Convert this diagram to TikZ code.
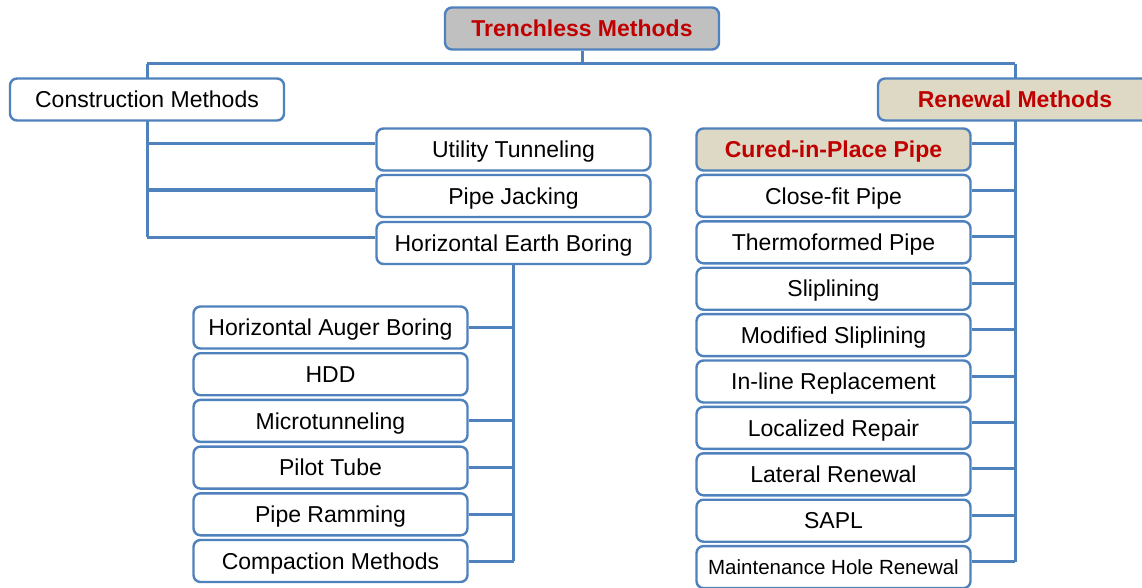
\documentclass[tikz,border=0pt]{standalone}
\usepackage{fontspec}
\setmainfont{Liberation Sans}
\usetikzlibrary{calc,backgrounds}
\definecolor{tmBlue}{HTML}{4F81BD}
\definecolor{tmRed}{HTML}{C00000}
\definecolor{tmGray}{HTML}{C0C0C0}
\definecolor{tmSand}{HTML}{DDD9C4}

\begin{document}
\begin{tikzpicture}[x=1pt,y=-1pt,line cap=round,line join=round]
\useasboundingbox (0,0) rectangle (1142,588);
\tikzset{box/.style={draw=tmBlue,fill=white,line width=2.4pt,rounded corners=7pt,minimum width=274pt,minimum height=42pt,inner sep=0pt,text height=18pt,text depth=1.6pt,font=\fontsize{23}{27}\selectfont},head/.style={box,text=tmRed,font=\fontsize{23}{27}\selectfont\bfseries},link/.style={draw=tmBlue,line width=3pt}}
\node[head,fill=tmGray] (top) at (582,28.5) {Trenchless Methods};
\node[box] (cons) at (147,99.5) {Construction Methods};
\node[head,fill=tmSand] (renew) at (1015,99.5) {Renewal Methods};
\node[box] (util) at (513.5,149.5) {Utility Tunneling};
\node[box] (jack) at (513.5,196) {Pipe Jacking};
\node[box] (heb) at (513.5,243) {Horizontal Earth Boring};
\foreach \txt [count=\i] in {Horizontal Auger Boring,HDD,Microtunneling,Pilot Tube,Pipe Ramming,Compaction Methods}
  \node[box] (l\i) at (330.5,{327.5+46.7*(\i-1)}) {\txt};
\node[head,fill=tmSand] (r1) at (833.5,149.5) {Cured-in-Place Pipe};
\foreach \txt [count=\i from 2] in {Close-fit Pipe,Thermoformed Pipe,Sliplining,Modified Sliplining,In-line Replacement,Localized Repair,Lateral Renewal,SAPL}
  \node[box] (r\i) at (833.5,{149.5+46.4*(\i-1)}) {\txt};
\node[box,text height=16pt,text depth=1.3pt,font=\fontsize{20.5}{24}\selectfont] (r10) at (833.5,567.1) {Maintenance Hole Renewal};
% connectors behind the boxes
\begin{scope}[on background layer]
\coordinate (bus) at (582,64);
\foreach \nd [count=\i] in {util,jack,heb} \coordinate (cb\i) at ($(\nd.west)+(0,-6)$);
\foreach \i in {1,...,10} \coordinate (rb\i) at ($(r\i.east)+(0,-5.5)$);
\draw[link] (top.south) -- (bus);
\draw[link] (cons.north |- bus) -- (renew.north |- bus);
\draw[link] (cons.north |- bus) -- (cb3 -| cons.south);
\foreach \i in {1,2,3} \draw[link] (cb\i -| cons.south) -- (cb\i);
\draw[link] (heb.south) -- (l6.east -| heb.south);
\foreach \i in {1,3,4,5,6} \draw[link] (l\i.east) -- (l\i.east -| heb.south);
\draw[link] (renew.north |- bus) -- (rb10 -| renew.south);
\foreach \i in {1,...,10} \draw[link] (rb\i) -- (rb\i -| renew.south);
\end{scope}
\end{tikzpicture}
\end{document}
